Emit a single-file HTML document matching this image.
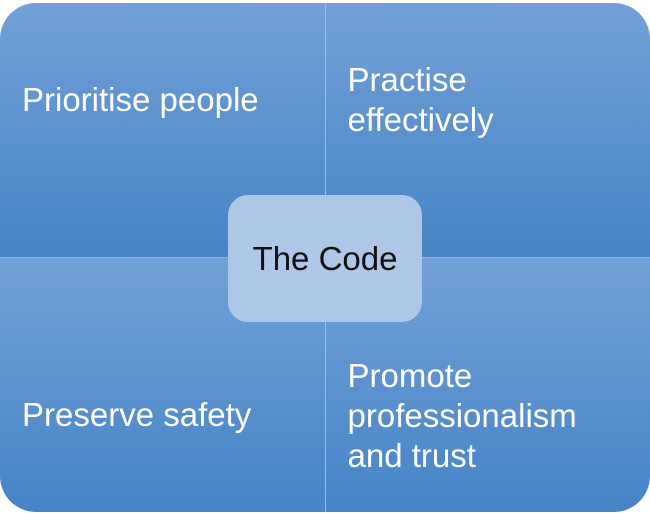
<!DOCTYPE html><html><head><style>
body{margin:0;width:650px;height:513px;background:#fff;position:relative;overflow:hidden;font-family:"Liberation Sans",sans-serif}
.bg{position:absolute;left:320px;top:3px;width:10px;height:509px;background:#9dbde3}
.bg2{position:absolute;left:0;top:252px;width:650px;height:8px;background:#8fb2de}
.q{position:absolute;background:linear-gradient(#72a0d6,#4684c7);color:#fff;font-size:33px;line-height:40px;box-sizing:border-box}
.c{position:absolute;left:228px;top:195px;width:194px;height:127px;background:#aec7e7;border-radius:20px;color:#111;font-size:33px;display:flex;align-items:center;justify-content:center}
</style></head><body>
<div class="bg"></div><div class="bg2"></div>
<div class="q" style="left:0;top:3px;width:324.5px;height:253.5px;border-top-left-radius:36px;padding:77px 0 0 22px">Prioritise people</div>
<div class="q" style="left:325.5px;top:3px;width:324.5px;height:253.5px;border-top-right-radius:36px;padding:57px 0 0 22px">Practise<br>effectively</div>
<div class="q" style="left:0;top:257.5px;width:324.5px;height:254.5px;border-bottom-left-radius:36px;padding:137px 0 0 22px">Preserve safety</div>
<div class="q" style="left:325.5px;top:257.5px;width:324.5px;height:254.5px;border-bottom-right-radius:36px;padding:98px 0 0 22px">Promote<br>professionalism<br>and trust</div>
<div class="c">The Code</div>
</body></html>
